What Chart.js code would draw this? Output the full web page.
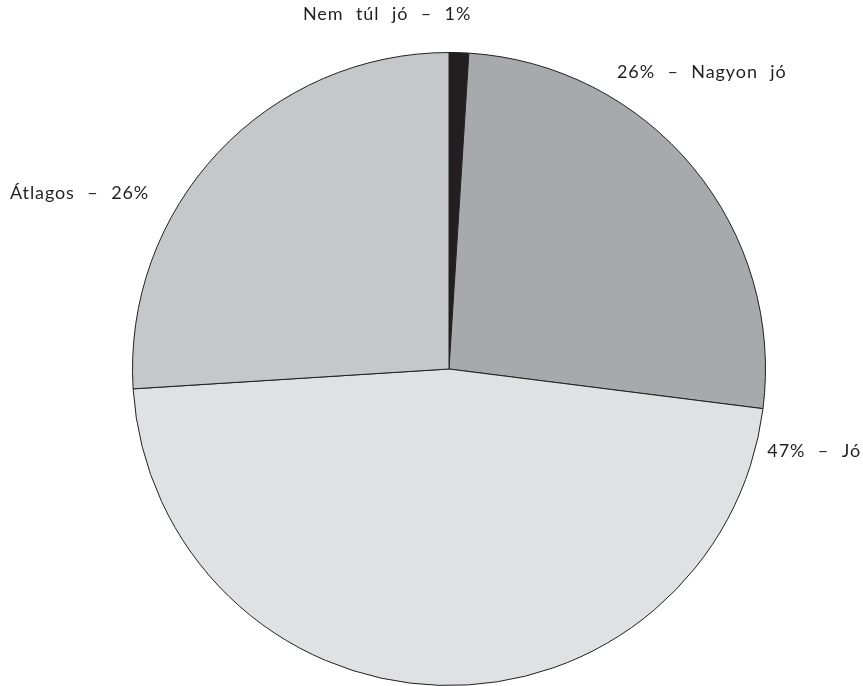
<!DOCTYPE html>
<html>
<head>
<meta charset="utf-8">
<script src="https://cdn.jsdelivr.net/npm/chart.js@4.4.1/dist/chart.umd.min.js"></script>
<style>
  html, body { margin: 0; padding: 0; background: #fff; }
  canvas { display: block; }
</style>
</head>
<body>
<canvas id="pieChart" width="863" height="686"></canvas>
<script>
const categories = ['Nem túl jó', 'Nagyon jó', 'Jó', 'Átlagos'];
const shares = [1, 26, 47, 26];
const labelTexts = ['Nem túl jó – 1%', '26% – Nagyon jó', '47% – Jó', 'Átlagos – 26%'];

const colors = {
    ink: '#231f20',
    dark: '#a7a9ac',
    light: '#e0e1e3',
    mid: '#c6c7c9'
};

// label anchor spots (x, middle y, align), same order as categories
const labelSpots = [
    [303, 14, 'left'],
    [617, 72, 'left'],
    [861, 451, 'right'],
    [10, 193, 'left']
];

const outsideLabels = {
    id: 'outsideLabels',
    afterDraw(chart) {
        const ctx = chart.ctx;
        ctx.save();
        ctx.fillStyle = colors.ink;
        ctx.font = "18px 'Lato', sans-serif";
        ctx.letterSpacing = '0.9px';
        ctx.wordSpacing = '7px';
        ctx.textBaseline = 'middle';
        labelTexts.forEach((t, i) => {
            ctx.textAlign = labelSpots[i][2];
            ctx.fillText(t, labelSpots[i][0], labelSpots[i][1]);
        });
        ctx.restore();
    }
};

new Chart(document.getElementById('pieChart'), {
    type: 'pie',
    data: {
        labels: categories,
        datasets: [{
            data: shares,
            backgroundColor: [colors.ink, colors.dark, colors.light, colors.mid],
            borderColor: colors.ink,
            borderWidth: 1
        }]
    },
    options: {
        responsive: false,
        animation: false,
        layout: { padding: { top: 52, bottom: 0, left: 132, right: 97 } },
        plugins: {
            legend: { display: false },
            tooltip: { enabled: false }
        }
    },
    plugins: [outsideLabels]
});
</script>
</body>
</html>
